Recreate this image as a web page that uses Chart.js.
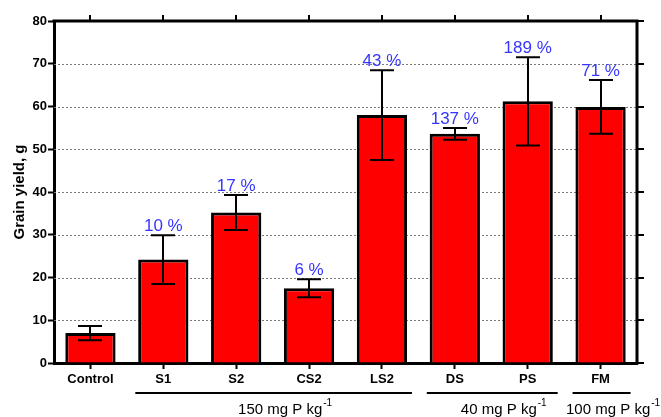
<!DOCTYPE html>
<html>
<head>
<meta charset="utf-8">
<script src="https://cdn.jsdelivr.net/npm/chart.js@4.4.1/dist/chart.umd.min.js"></script>
<style>
  html, body { margin: 0; padding: 0; background: #fff; }
  canvas { display: block; }
</style>
</head>
<body>
<canvas id="chart" width="661" height="417"></canvas>
<script>
// Treatments and grain yield (g), mean with standard deviation
const categories = ['Control', 'S1', 'S2', 'CS2', 'LS2', 'DS', 'PS', 'FM'];
const grainYield = [7.0, 24.2, 35.2, 17.5, 58.0, 53.6, 61.2, 59.9];
const yieldSd    = [1.65, 5.7, 4.1, 2.1, 10.5, 1.35, 10.3, 6.3];
// Relative increase labels shown above each bar
const increaseLabels = ['', '10 %', '17 %', '6 %', '43 %', '137 %', '189 %', '71 %'];
// Phosphorus rate groups: label, first and last treatment index
const groupLabels = ['150 mg P kg', '40 mg P kg', '100 mg P kg'];
const groupFirst  = [1, 5, 7];
const groupLast   = [4, 6, 7];
const yTicks = [0, 10, 20, 30, 40, 50, 60, 70, 80];

const FONT = '"Liberation Sans", Arial, Helvetica, sans-serif';

const framePlugin = {
  id: 'frame',
  beforeDatasetsDraw(chart) {
    const { ctx, chartArea: a, scales: { y } } = chart;
    ctx.save();
    ctx.strokeStyle = '#7a7a7a';
    ctx.lineWidth = 1;
    ctx.setLineDash([2, 2]);
    yTicks.forEach(v => {
      if (v === 0 || v === 80) return;
      const py = Math.round(y.getPixelForValue(v)) + 0.5;
      ctx.beginPath();
      ctx.moveTo(a.left, py);
      ctx.lineTo(a.right, py);
      ctx.stroke();
    });
    ctx.restore();
  },
  afterDatasetsDraw(chart) {
    const { ctx, chartArea: a, scales: { x, y } } = chart;
    const meta = chart.getDatasetMeta(0);
    ctx.save();
    // error bars
    ctx.strokeStyle = '#000';
    ctx.lineWidth = 2;
    meta.data.forEach((bar, i) => {
      const cx = Math.round(bar.x);
      const top = y.getPixelForValue(grainYield[i] + yieldSd[i]);
      const bot = y.getPixelForValue(grainYield[i] - yieldSd[i]);
      ctx.beginPath();
      ctx.moveTo(cx, top); ctx.lineTo(cx, bot);
      ctx.moveTo(cx - 12, top); ctx.lineTo(cx + 12, top);
      ctx.moveTo(cx - 12, bot); ctx.lineTo(cx + 12, bot);
      ctx.stroke();
    });
    // increase labels
    ctx.fillStyle = '#3535ff';
    ctx.font = '17px ' + FONT;
    ctx.textAlign = 'center';
    ctx.textBaseline = 'alphabetic';
    meta.data.forEach((bar, i) => {
      if (!increaseLabels[i]) return;
      const top = y.getPixelForValue(grainYield[i] + yieldSd[i]);
      ctx.fillText(increaseLabels[i], bar.x, top - 4);
    });
    // top and right frame lines with outward ticks
    ctx.strokeStyle = '#000';
    ctx.lineWidth = 3;
    ctx.beginPath();
    ctx.moveTo(a.left - 1.5, a.top);
    ctx.lineTo(a.right + 1.5, a.top);
    ctx.moveTo(a.right, a.top);
    ctx.lineTo(a.right, a.bottom + 1.5);
    ctx.stroke();
    ctx.lineWidth = 2;
    ctx.beginPath();
    categories.forEach((c, i) => {
      const px = Math.round(x.getPixelForValue(i));
      ctx.moveTo(px, a.top);
      ctx.lineTo(px, a.top - 6);
    });
    yTicks.forEach(v => {
      const py = Math.round(y.getPixelForValue(v));
      ctx.moveTo(a.right, py);
      ctx.lineTo(a.right + 7, py);
    });
    ctx.stroke();
    // phosphorus rate group brackets
    const lineY = a.bottom + 30;
    ctx.lineWidth = 2;
    groupLabels.forEach((g, k) => {
      const x0 = x.getPixelForValue(groupFirst[k]) - 28;
      const x1 = x.getPixelForValue(groupLast[k]) + 30;
      ctx.beginPath();
      ctx.moveTo(x0, lineY);
      ctx.lineTo(x1, lineY);
      ctx.stroke();
      ctx.font = '15px ' + FONT;
      const w = ctx.measureText(g).width;
      ctx.font = '10px ' + FONT;
      const ws = ctx.measureText('-1').width;
      const cx = (x0 + x1) / 2 + 11;
      const start = cx - (w + ws) / 2;
      ctx.fillStyle = '#000';
      ctx.textAlign = 'left';
      ctx.font = '15px ' + FONT;
      ctx.fillText(g, start, lineY + 21);
      ctx.font = '10px ' + FONT;
      ctx.fillText('-1', start + w + 1, lineY + 13);
    });
    ctx.restore();
  }
};

new Chart(document.getElementById('chart'), {
  type: 'bar',
  data: {
    labels: categories,
    datasets: [{
      data: grainYield,
      backgroundColor: '#ff0000',
      borderColor: '#000000',
      borderWidth: 3,
      borderSkipped: 'start',
      categoryPercentage: 1.0,
      barPercentage: 0.69
    }]
  },
  options: {
    responsive: false,
    animation: false,
    events: [],
    layout: { padding: { top: 21, right: 24, left: 0, bottom: 0 } },
    plugins: { legend: { display: false }, tooltip: { enabled: false } },
    scales: {
      x: {
        grid: { offset: false, drawOnChartArea: false, tickLength: 6, tickWidth: 2, tickColor: '#000' },
        border: { color: '#000', width: 3 },
        ticks: { color: '#000', padding: 3, font: { family: FONT, size: 13, weight: 'bold' } },
        afterFit(s) { s.height = 54; }
      },
      y: {
        min: 0, max: 80,
        afterBuildTicks(s) { s.ticks = yTicks.map(v => ({ value: v })); },
        grid: { drawOnChartArea: false, tickLength: 6, tickWidth: 2, tickColor: '#000' },
        border: { color: '#000', width: 3 },
        ticks: { color: '#000', padding: 1, font: { family: FONT, size: 13, weight: 'bold' } },
        title: {
          display: true, text: 'Grain yield, g', color: '#000',
          padding: { top: 11, bottom: 0 },
          font: { family: FONT, size: 15, weight: 'bold' }
        },
        afterFit(s) { s.width = 54; }
      }
    }
  },
  plugins: [framePlugin]
});
</script>
</body>
</html>
